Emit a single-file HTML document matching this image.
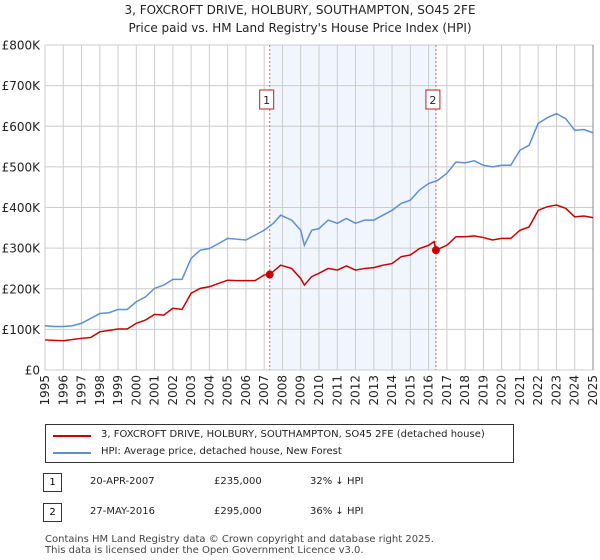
<!DOCTYPE html>
<html><head><meta charset="utf-8"><style>
body{margin:0;background:#fff;font-family:"DejaVu Sans","Liberation Sans",sans-serif;}
#wrap{position:relative;width:600px;height:560px;overflow:hidden;}
.t{position:absolute;font-size:12px;color:#222;white-space:nowrap;}
</style></head><body>
<div id="wrap">
<div class="t" style="left:0;width:600px;text-align:center;top:3px;font-size:12px">3, FOXCROFT DRIVE, HOLBURY, SOUTHAMPTON, SO45 2FE</div>
<div class="t" style="left:0;width:600px;text-align:center;top:21px;font-size:12px">Price paid vs. HM Land Registry's House Price Index (HPI)</div>
<svg id="chart" width="600" height="420" style="position:absolute;left:0;top:0"></svg>
<div style="position:absolute;left:45px;top:424px;width:467px;height:37px;border:1px solid #333;">
 <div style="position:absolute;left:7px;top:10px;width:38px;height:2px;background:#cc0000"></div>
 <div class="t" style="left:55px;top:4px;font-size:10px">3, FOXCROFT DRIVE, HOLBURY, SOUTHAMPTON, SO45 2FE (detached house)</div>
 <div style="position:absolute;left:7px;top:27px;width:38px;height:2px;background:#5b8fd6"></div>
 <div class="t" style="left:55px;top:21px;font-size:10px">HPI: Average price, detached house, New Forest</div>
</div>
<div style="position:absolute;left:43px;top:473px;width:17px;height:17px;border:1px solid #333;font-size:10px;text-align:center;line-height:17px">1</div>
<div class="t" style="left:90px;top:476px;font-size:10px">20-APR-2007</div>
<div class="t" style="left:214px;top:476px;font-size:10px">£235,000</div>
<div class="t" style="left:310px;top:476px;font-size:10px">32% ↓ HPI</div>
<div style="position:absolute;left:43px;top:503px;width:17px;height:17px;border:1px solid #333;font-size:10px;text-align:center;line-height:17px">2</div>
<div class="t" style="left:90px;top:506px;font-size:10px">27-MAY-2016</div>
<div class="t" style="left:214px;top:506px;font-size:10px">£295,000</div>
<div class="t" style="left:310px;top:506px;font-size:10px">36% ↓ HPI</div>
<div class="t" style="left:45px;top:534px;font-size:10px;color:#444;line-height:11px">Contains HM Land Registry data © Crown copyright and database right 2025.<br>This data is licensed under the Open Government Licence v3.0.</div>
</div>
<script>
const hpiYears=[1995,1995.5,1996,1996.5,1997,1997.5,1998,1998.5,1999,1999.5,2000,2000.5,2001,2001.5,2002,2002.5,2003,2003.5,2004,2004.5,2005,2005.5,2006,2006.5,2007,2007.5,2007.9,2008.5,2009,2009.2,2009.6,2010,2010.5,2011,2011.5,2012,2012.5,2013,2013.5,2014,2014.5,2015,2015.5,2016,2016.5,2017,2017.5,2018,2018.5,2019,2019.5,2020,2020.5,2021,2021.5,2022,2022.5,2023,2023.5,2024,2024.5,2025];
const hpiValues=[109,107,107,109,115,127,139,141,149,149,168,180,201,209,223,223,275,295,299,311,324,322,320,332,344,361,381,369,344,307,344,348,369,361,373,361,369,369,381,393,410,418,443,459,467,484,512,510,515,504,500,504,504,541,553,607,621,631,619,590,592,584];
const ppYears=[1995,1996,1997,1997.5,1998,1999,1999.5,2000,2000.5,2001,2001.5,2002,2002.5,2003,2003.5,2004,2004.5,2005,2005.5,2006,2006.5,2007,2007.3,2007.9,2008.5,2009,2009.2,2009.6,2010,2010.5,2011,2011.5,2012,2012.5,2013,2013.5,2014,2014.5,2015,2015.5,2016,2016.3,2016.4,2017,2017.5,2018,2018.5,2019,2019.5,2020,2020.5,2021,2021.5,2022,2022.5,2023,2023.5,2024,2024.5,2025];
const ppValues=[74,72,78,80,94,101,101,115,123,137,135,152,149,189,201,205,213,221,220,220,220,234,235,258,250,225,209,230,238,250,246,256,246,250,252,258,262,279,283,299,307,316,295,307,328,328,330,326,320,324,324,344,352,393,402,406,398,377,379,375];
const saleYears=[2007.3,2016.4];
const saleValues=[235,295];
const saleLabels=["1","2"];
const yTicks=[0,100,200,300,400,500,600,700,800];
const yTickLabels=["£0","£100K","£200K","£300K","£400K","£500K","£600K","£700K","£800K"];
const xTicks=[1995,1996,1997,1998,1999,2000,2001,2002,2003,2004,2005,2006,2007,2008,2009,2010,2011,2012,2013,2014,2015,2016,2017,2018,2019,2020,2021,2022,2023,2024,2025];

const L=45,R=593,T=45,B=370;
const FF='DejaVu Sans, Liberation Sans, sans-serif';
const xs=y=>L+(y-1995)/30*(R-L);
const ys=v=>B-v/800*(B-T);
const svg=document.getElementById('chart');
const NS='http://www.w3.org/2000/svg';
function mk(tag,attrs,parent){const e=document.createElementNS(NS,tag);for(const k in attrs)e.setAttribute(k,attrs[k]);(parent||svg).appendChild(e);return e;}

let r=mk('rect',{x:xs(saleYears[0]),y:T,width:xs(saleYears[1])-xs(saleYears[0]),height:B-T,fill:'#f1f5fd'});


yTicks.forEach((v,i)=>{
 let g=mk('line',{x1:L,x2:R,y1:ys(v),y2:ys(v),stroke:'#ccc','stroke-width':1});
 
 
 let t=mk('text',{x:L-5,y:ys(v)+4.5,'text-anchor':'end','font-size':12,fill:'#222','font-family':FF});
 t.textContent=yTickLabels[i];
 
 
});
xTicks.forEach(y=>{
 let g=mk('line',{x1:xs(y),x2:xs(y),y1:T,y2:B,stroke:'#ccc','stroke-width':1});
 
 
 let t=mk('text',{x:0,y:0,'text-anchor':'end','font-size':12,fill:'#222','font-family':FF,transform:`translate(${xs(y)+4},${B+5}) rotate(-90)`});
 t.textContent=y;
 
 
});
let ax=mk('line',{x1:R,x2:R,y1:T,y2:B,stroke:'#888','stroke-width':1});



saleYears.forEach((y,i)=>{
 let l=mk('line',{x1:xs(y),x2:xs(y),y1:T,y2:B,stroke:'#e06060','stroke-width':1,'stroke-dasharray':'2,2'});
 
 
 let b=mk('rect',{x:xs(y)-10,y:90,width:14,height:19,fill:'#fff',stroke:'#b22','stroke-width':1});
 
 
 let t=mk('text',{x:xs(y)-3,y:104,'text-anchor':'middle','font-size':11,fill:'#222','font-family':FF});
 t.textContent=saleLabels[i];
 
 
});

let hp=mk('polyline',{points:hpiYears.map((y,i)=>xs(y)+','+ys(hpiValues[i])).join(' '),fill:'none',stroke:'#5b8fd6','stroke-width':1.5});


let pp=mk('polyline',{points:ppYears.map((y,i)=>xs(y)+','+ys(ppValues[i])).join(' '),fill:'none',stroke:'#cc0000','stroke-width':1.5});


saleYears.forEach((y,i)=>{
 let c=mk('circle',{cx:xs(y),cy:ys(saleValues[i]),r:4,fill:'#cc0000'});
 
 
});
</script>
</body></html>
